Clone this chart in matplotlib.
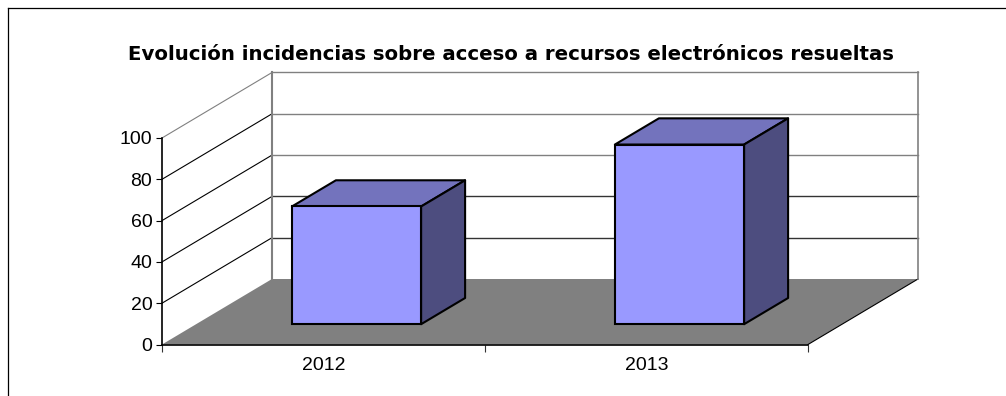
import matplotlib.pyplot as plt
from matplotlib.lines import Line2D
from matplotlib.patches import Polygon

plt.rcParams['font.family'] = ['Liberation Sans', 'DejaVu Sans']

years = ['2012', '2013']
values = [57, 87]
y_ticks = [0, 20, 40, 60, 80, 100]
title = 'Evolución incidencias sobre acceso a recursos electrónicos resueltas'

W, H = 1006, 396
fig = plt.figure(figsize=(W / 100, H / 100), dpi=100, facecolor='white')
ax = fig.add_axes([162 / W, (H - 344.5) / H, 646 / W, 206.5 / H], facecolor='none')
ax.set_xlim(0, 2)
ax.set_ylim(0, 100)

# fake 3d: depth of the box in data units
dx = 110 / 323
dy = 65.5 / 2.065
bar_w = 0.4
inset = 0.30
bar_depth = 0.4

# floor
ax.add_patch(Polygon([(0, 0), (2, 0), (2 + dx, dy), (dx, dy)], fc='#808080', ec='none', zorder=1, clip_on=False))
ax.plot([2, 2 + dx], [0, dy], color='black', lw=0.8, zorder=2, clip_on=False)

# walls and grid
for v in y_ticks[1:]:
    c = '#808080' if v == 100 else 'black'
    ax.plot([0, dx], [v, v + dy], color=c, lw=0.8, zorder=2, clip_on=False)
    ax.plot([dx, 2 + dx], [v + dy, v + dy], color='#808080' if v != 40 and v != 20 else '#333333',
            lw=1.0, zorder=2, clip_on=False)
ax.plot([dx, dx], [dy, 100 + dy], color='#808080', lw=1.5, zorder=2, clip_on=False)
ax.plot([2 + dx, 2 + dx], [dy, 100 + dy], color='#808080', lw=1.2, zorder=2, clip_on=False)

# bars
for i, v in enumerate(values):
    x0 = i + 0.5 - bar_w / 2 + inset * dx
    base = 0.31 * dy
    ddx = bar_depth * dx
    ddy = bar_depth * dy
    ax.bar(x0, v, width=bar_w, bottom=base, align='edge', color='#9999FF', edgecolor='black',
           linewidth=1.5, zorder=5, clip_on=False)
    top = base + v
    ax.add_patch(Polygon([(x0, top), (x0 + bar_w, top), (x0 + bar_w + ddx, top + ddy), (x0 + ddx, top + ddy)],
                         fc='#7373BD', ec='black', lw=1.5, zorder=4, clip_on=False, joinstyle='round'))
    ax.add_patch(Polygon([(x0 + bar_w, base), (x0 + bar_w + ddx, base + ddy), (x0 + bar_w + ddx, top + ddy),
                          (x0 + bar_w, top)],
                         fc='#4D4D7F', ec='black', lw=1.5, zorder=4, clip_on=False, joinstyle='round'))

# axes
for s in ['top', 'right']:
    ax.spines[s].set_visible(False)
for s in ['left', 'bottom']:
    ax.spines[s].set_linewidth(1.2)
    ax.spines[s].set_zorder(6)
ax.set_yticks(y_ticks)
ax.set_xticks([0, 1, 2])
ax.set_xticklabels([])
ax.set_xticks([0.5, 1.5], years, minor=True)
ax.tick_params(axis='x', which='major', length=5, width=0.8, color='#333333')
ax.tick_params(axis='x', which='minor', length=0, labelsize=14, pad=9)
ax.tick_params(axis='y', length=4, width=0.8, labelsize=14, pad=3)

fig.text(511 / W, (H - 54) / H, title, ha='center', va='center', fontsize=14.2, fontweight='bold',
         family=['DejaVu Sans'])

# chart frame, runs off the right and bottom of the image
fig.add_artist(Line2D([7.5 / W, 7.5 / W], [0, (H - 7.5) / H], color='black', lw=0.9))
fig.add_artist(Line2D([7.5 / W, 1], [(H - 7.5) / H, (H - 7.5) / H], color='black', lw=0.9))

fig.savefig('out.png', dpi=100, facecolor='white')
